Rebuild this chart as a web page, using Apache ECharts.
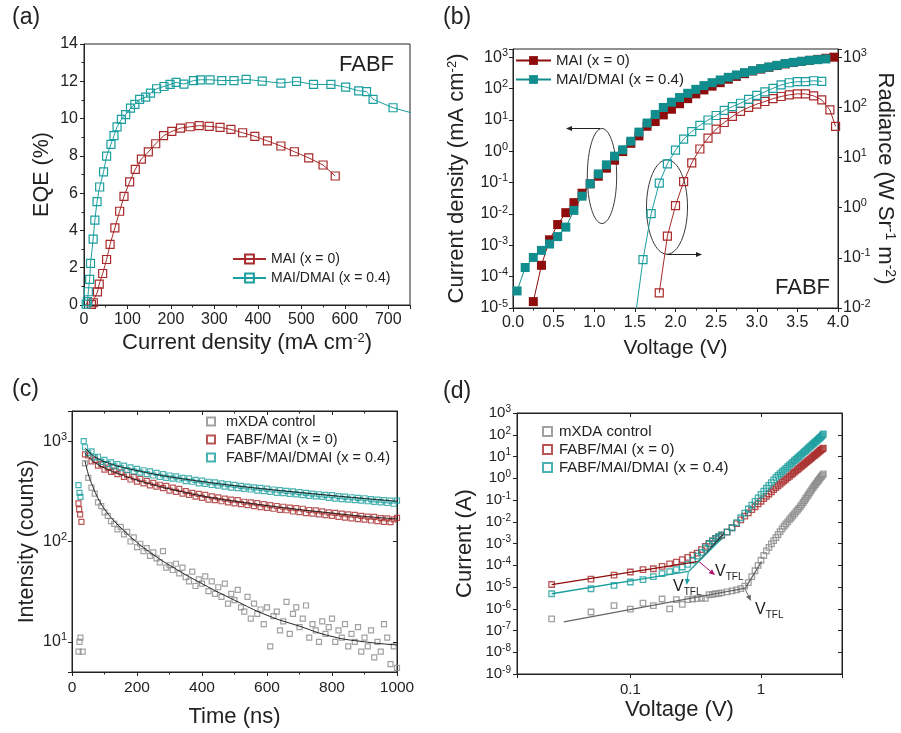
<!DOCTYPE html>
<html>
<head>
<meta charset="utf-8">
<script src="https://cdn.jsdelivr.net/npm/echarts@6/dist/echarts.min.js"></script>
<style>
  html, body { margin: 0; padding: 0; background: #fff; }
  #chart { width: 901px; height: 733px; }
</style>
</head>
<body>
<div id="chart"></div>
<script>
// ---------- (a) EQE vs current density ----------
const eqeJ_MAI = [17, 21.5, 31, 35, 43, 52, 60, 71, 82, 92, 105, 118, 132, 148, 165, 183, 202, 222, 244, 265, 288, 313, 338, 365, 393, 422, 453, 484, 517, 550, 578];
const eqe_MAI = [0.03, 0.12, 0.70, 1.12, 1.69, 2.44, 3.25, 4.14, 5.03, 5.83, 6.60, 7.28, 7.83, 8.21, 8.65, 9.08, 9.31, 9.49, 9.56, 9.62, 9.58, 9.53, 9.42, 9.24, 9.05, 8.80, 8.53, 8.22, 7.89, 7.51, 6.92];
const eqeJ_DMAI = [5, 8, 10, 13, 15, 21, 25, 30, 36, 45, 52, 62, 69, 76, 86, 96, 107, 117, 128, 142, 153, 167, 184, 198, 212, 230, 252, 268, 290, 317, 345, 373, 410, 453, 489, 528, 568, 602, 632, 650, 665, 711, 770];
const eqe_DMAI = [0.05, 0.18, 0.71, 1.37, 2.23, 3.53, 4.55, 5.55, 6.33, 7.14, 7.99, 8.62, 9.08, 9.55, 9.96, 10.21, 10.56, 10.76, 11.03, 11.15, 11.36, 11.60, 11.72, 11.83, 11.94, 11.85, 12.04, 12.08, 12.08, 12.04, 12.04, 12.10, 12.01, 11.90, 11.99, 11.83, 11.83, 11.69, 11.49, 11.45, 11.03, 10.58, 10.2];

// ---------- (b) J-V-L ----------
const jvV_MAI = [0.25, 0.35, 0.45, 0.55, 0.65, 0.75, 0.85, 0.95, 1.05, 1.15, 1.25, 1.35, 1.45, 1.55, 1.65, 1.75, 1.85, 1.95, 2.05, 2.15, 2.25, 2.35, 2.45, 2.55, 2.65, 2.75, 2.85, 2.95, 3.05, 3.15, 3.25, 3.35, 3.45, 3.55, 3.65, 3.75, 3.85, 3.95];
const jvJ_MAI = [1.6e-5, 2.3e-4, 1.5e-3, 4.6e-3, 0.011, 0.023, 0.046, 0.092, 0.16, 0.29, 0.52, 0.98, 1.8, 3.1, 6.3, 8.9, 14.5, 22, 33, 48, 68, 91, 120, 155, 200, 246, 300, 366, 420, 480, 545, 615, 680, 740, 800, 860, 930, 1010];
const jvV_DMAI = [0.05, 0.15, 0.25, 0.35, 0.45, 0.55, 0.65, 0.75, 0.85, 0.95, 1.05, 1.15, 1.25, 1.35, 1.45, 1.55, 1.65, 1.75, 1.85, 1.95, 2.05, 2.15, 2.25, 2.35, 2.45, 2.55, 2.65, 2.75, 2.85, 2.95, 3.05, 3.15, 3.25, 3.35, 3.45, 3.55, 3.65, 3.75, 3.85];
const jvJ_DMAI = [3.5e-5, 1.96e-4, 4.1e-4, 6.9e-4, 1.1e-3, 1.9e-3, 3.8e-3, 0.013, 0.037, 0.092, 0.19, 0.37, 0.70, 1.12, 2.1, 4.1, 8.0, 15, 25, 37, 52, 71, 95, 125, 155, 189, 230, 274, 325, 375, 435, 490, 555, 630, 690, 745, 800, 840, 885];
const radV_MAI = [1.80, 1.90, 2.00, 2.10, 2.20, 2.30, 2.40, 2.50, 2.60, 2.70, 2.80, 2.90, 3.00, 3.10, 3.20, 3.30, 3.40, 3.50, 3.60, 3.70, 3.80, 3.90, 3.97];
const rad_MAI = [0.020, 0.27, 1.1, 3.3, 7.8, 14.8, 24.5, 37, 50, 66, 83, 100, 116, 131, 150, 165, 178, 186, 186, 170, 141, 89, 42];
const radV_DMAI = [1.50, 1.60, 1.70, 1.80, 1.90, 2.00, 2.10, 2.20, 2.30, 2.40, 2.50, 2.60, 2.70, 2.80, 2.90, 3.00, 3.10, 3.20, 3.30, 3.40, 3.50, 3.60, 3.70, 3.80];
const rad_DMAI = [0.0058, 0.092, 0.76, 3.1, 7.5, 14, 23.4, 33, 44, 56, 69, 87, 104, 121, 145, 173, 204, 240, 280, 310, 325, 325, 340, 330];

// ---------- (c) TRPL ----------
const timeNs = [40, 50, 60, 70, 80, 90, 100, 110, 120, 130, 140, 150, 160, 170, 180, 190, 200, 210, 220, 230, 240, 250, 260, 270, 280, 290, 300, 310, 320, 330, 340, 350, 360, 370, 380, 390, 400, 410, 420, 430, 440, 450, 460, 470, 480, 490, 500, 510, 520, 530, 540, 550, 560, 570, 580, 590, 600, 610, 620, 630, 640, 650, 660, 670, 680, 690, 700, 710, 720, 730, 740, 750, 760, 770, 780, 790, 800, 810, 820, 830, 840, 850, 860, 870, 880, 890, 900, 910, 920, 930, 940, 950, 960, 970, 980, 990, 1000];
const pl_mXDA = [600, 430, 345, 300, 245, 225, 195, 180, 160, 150, 132, 140, 118, 125, 100, 110, 88, 95, 80, 86, 72, 78, 68, 62, 80, 55, 58, 52, 60, 48, 55, 44, 40, 50, 36, 42, 38, 45, 32, 40, 30, 35, 28, 38, 24, 30, 26, 33, 22, 20, 28, 17, 24, 19, 21, 15, 22, 9, 18, 20, 13, 16, 25, 12, 19, 22, 14, 17, 23, 11, 15, 13, 10, 16, 12, 14, 17, 10, 13, 11, 15, 9, 12, 10, 14, 8, 11, 9, 13, 7, 10, 8, 15, 11, 6, 9, 5.5];
const pl_MAI = [740, 720, 630, 650, 570, 590, 520, 545, 495, 510, 470, 490, 440, 462, 415, 438, 395, 420, 380, 402, 362, 385, 352, 368, 340, 358, 322, 345, 312, 334, 300, 318, 292, 306, 280, 298, 272, 292, 262, 282, 258, 275, 252, 268, 245, 262, 240, 258, 236, 249, 230, 246, 225, 241, 220, 236, 216, 230, 212, 226, 207, 222, 205, 218, 199, 215, 196, 212, 192, 206, 190, 204, 186, 200, 183, 195, 180, 193, 176, 190, 173, 186, 170, 184, 167, 180, 165, 177, 162, 176, 160, 171, 157, 170, 156, 166, 172];
const pl_DMAI = [870, 760, 790, 690, 700, 622, 650, 590, 615, 560, 590, 540, 570, 515, 548, 500, 530, 485, 513, 470, 500, 455, 484, 440, 470, 430, 455, 424, 446, 415, 430, 400, 425, 394, 412, 380, 405, 375, 394, 366, 388, 360, 379, 352, 373, 345, 367, 340, 358, 335, 353, 330, 347, 322, 342, 318, 336, 312, 330, 306, 325, 304, 320, 298, 316, 295, 311, 290, 305, 285, 300, 282, 296, 278, 292, 272, 290, 268, 284, 265, 280, 262, 276, 258, 272, 255, 270, 252, 265, 248, 262, 245, 258, 242, 256, 238, 255];
const plEarlyT_mXDA = [20, 23, 26, 33];
const plEarly_mXDA = [8, 10, 11, 8];
const plEarlyT_MAI = [20, 22, 25, 29];
const plEarly_MAI = [240, 209, 186, 157];
const plEarlyT_DMAI = [20, 23, 26, 36];
const plEarly_DMAI = [365, 305, 278, 1000];
const fitT_mXDA = [40, 50, 60, 80, 100, 130, 160, 200, 250, 300, 400, 500, 600, 700, 800, 900, 1000];
const fit_mXDA = [640, 470, 380, 270, 210, 160, 128, 98, 74, 58, 38, 26, 18.4, 14.3, 11.3, 10, 9.3];
const fitT = [40, 60, 80, 100, 150, 200, 250, 300, 400, 500, 600, 700, 800, 900, 1000];
const fit_MAI = [760, 650, 585, 540, 465, 410, 368, 335, 285, 252, 228, 208, 192, 178, 168];
const fit_DMAI = [860, 740, 670, 625, 555, 510, 472, 442, 396, 360, 332, 308, 287, 268, 252];

// ---------- (d) SCLC ----------
const scV = [0.025, 0.05, 0.075, 0.1, 0.125, 0.15, 0.175, 0.2, 0.225, 0.25, 0.275, 0.3, 0.325, 0.35, 0.375, 0.4, 0.425, 0.45, 0.475, 0.5, 0.55, 0.6, 0.65, 0.7, 0.75, 0.8, 0.85, 0.9, 0.95, 1.0, 1.05, 1.1, 1.15, 1.2, 1.25, 1.3, 1.35, 1.4, 1.45, 1.5, 1.55, 1.6, 1.65, 1.7, 1.75, 1.8, 1.85, 1.9, 1.95, 2.0, 2.05, 2.1, 2.15, 2.2, 2.25, 2.3, 2.35, 2.4, 2.45, 2.5, 2.55, 2.6, 2.65, 2.7, 2.75, 2.8, 2.85, 2.9, 2.95, 3.0];
const scI_mXDA = [3.4e-7, 7.1e-7, 1.4e-6, 9.7e-7, 1.8e-6, 1.4e-6, 2.8e-6, 9.8e-7, 2.6e-6, 1.6e-6, 2.6e-6, 2.8e-6, 2.9e-6, 3.1e-6, 3.0e-6, 4.4e-6, 4.6e-6, 4.9e-6, 5.1e-6, 5.4e-6, 6.0e-6, 6.6e-6, 7.4e-6, 8.4e-6, 1.1e-5, 1.6e-5, 3.0e-5, 5.6e-5, 9.9e-5, 1.7e-4, 2.8e-4, 4.6e-4, 6.7e-4, 9.6e-4, 1.35e-3, 1.88e-3, 2.58e-3, 3.5e-3, 4.7e-3, 6.2e-3, 7.9e-3, 9.9e-3, 0.0124, 0.0153, 0.0189, 0.0232, 0.0282, 0.0342, 0.0412, 0.0495, 0.0618, 0.0768, 0.0949, 0.117, 0.143, 0.174, 0.211, 0.255, 0.307, 0.368, 0.44, 0.513, 0.597, 0.692, 0.80, 0.922, 1.06, 1.22, 1.39, 1.59];
const scI_MAI = [1.3e-5, 2.3e-5, 3.5e-5, 4.9e-5, 6.3e-5, 6.9e-5, 8.9e-5, 1.15e-4, 1.4e-4, 1.8e-4, 2.3e-4, 2.9e-4, 3.6e-4, 5.2e-4, 7.4e-4, 1.0e-3, 1.3e-3, 1.7e-3, 2.0e-3, 2.4e-3, 3.3e-3, 5.3e-3, 8.2e-3, 0.0123, 0.018, 0.0256, 0.0358, 0.049, 0.066, 0.0875, 0.115, 0.148, 0.189, 0.239, 0.299, 0.37, 0.452, 0.542, 0.646, 0.766, 0.90, 1.06, 1.23, 1.43, 1.65, 1.91, 2.19, 2.50, 2.84, 3.23, 3.66, 4.12, 4.63, 5.20, 5.82, 6.49, 7.23, 8.03, 8.91, 9.84, 10.9, 12.0, 13.2, 14.5, 15.9, 17.4, 19.0, 20.7, 22.5, 24.5];
const scI_DMAI = [4.9e-6, 8.3e-6, 1.2e-5, 1.7e-5, 2.2e-5, 3.0e-5, 4.1e-5, 5.1e-5, 6.3e-5, 8.3e-5, 1.1e-4, 1.7e-4, 2.6e-4, 3.9e-4, 6.2e-4, 9.5e-4, 1.3e-3, 1.7e-3, 2.1e-3, 2.5e-3, 3.4e-3, 5.3e-3, 9.2e-3, 0.0153, 0.0247, 0.0386, 0.0585, 0.0868, 0.126, 0.180, 0.252, 0.347, 0.471, 0.632, 0.838, 1.10, 1.35, 1.64, 1.99, 2.38, 2.84, 3.38, 3.99, 4.68, 5.47, 6.38, 7.40, 8.55, 9.82, 11.3, 12.9, 14.7, 16.6, 18.8, 21.3, 23.9, 26.9, 30.1, 33.7, 37.6, 41.8, 46.4, 51.4, 56.9, 62.8, 69.2, 76.2, 83.6, 95, 108];
const fitLowV_mXDA = [0.031, 0.759], fitLowI_mXDA = [2.5e-7, 8.9e-6];
const fitHighV_mXDA = [0.759, 1.01], fitHighI_mXDA = [8.9e-6, 1.5e-4];
const fitLowV_MAI = [0.025, 0.333], fitLowI_MAI = [1.3e-5, 1.5e-4];
const fitHighV_MAI = [0.333, 0.52], fitHighI_MAI = [1.5e-4, 2.9e-3];
const fitLowV_DMAI = [0.025, 0.279], fitLowI_DMAI = [4.9e-6, 5.2e-5];
const fitHighV_DMAI = [0.279, 0.49], fitHighI_DMAI = [5.2e-5, 1.5e-3];

// ---------- style ----------
const FONT = '"Liberation Sans", Arial, sans-serif';
const INK = '#222';
const RED = '#a82a2a', TEAL = '#1a9e9e', RED_D = '#8e0c0c', TEAL_D = '#118d8d', GRAY = '#8a8a8a';

const pairs = (xs, ys) => xs.map((x, i) => [x, ys[i]]);
const logPairs = (xs, ys) => xs.map((x, i) => [x, Math.log10(ys[i])]);

const supRich = { s: { fontSize: 11, verticalAlign: 'top', lineHeight: 8, color: INK } };
const nameRich = { s: { fontSize: 13, verticalAlign: 'top', lineHeight: 10, color: INK } };

function powLabel(v) {
  const l = Math.log10(v), e = Math.round(l);
  if (Math.abs(l - e) > 1e-6) return '';
  return '10{s|' + e + '}';
}

function axis(o) {
  return Object.assign({
    nameLocation: 'middle',
    axisLine: { show: true, onZero: false, lineStyle: { color: INK, width: 1 } },
    axisTick: { show: true, inside: false, length: 4, lineStyle: { color: INK } },
    splitLine: { show: false },
  }, o);
}
const innerTick = { show: true, inside: true, length: 4, lineStyle: { color: INK } };
const minor = () => ({ show: true, splitNumber: 2, length: 2.5, lineStyle: { color: INK } });
const lab = (size, extra) => Object.assign({ color: INK, fontSize: size, fontFamily: FONT }, extra);
const nm = (size, extra) => Object.assign({ color: INK, fontSize: size, fontFamily: FONT }, extra);

const openSq = (c, size, bw) => ({ symbol: 'rect', symbolSize: size, itemStyle: { color: 'transparent', borderColor: c, borderWidth: bw || 1.2 } });

function arrow(x1, y1, x2, y2, color) {
  const a = Math.atan2(y2 - y1, x2 - x1), L = 6, W = 2.6;
  const bx = x2 - L * Math.cos(a), by = y2 - L * Math.sin(a);
  return [
    { type: 'line', silent: true, shape: { x1: x1, y1: y1, x2: bx, y2: by }, style: { stroke: color, lineWidth: 1 } },
    { type: 'polygon', silent: true, shape: { points: [[x2, y2], [bx - W * Math.sin(a), by + W * Math.cos(a)], [bx + W * Math.sin(a), by - W * Math.cos(a)]] }, style: { fill: color } }
  ];
}
function txt(x, y, text, size, align, extra) {
  return { type: 'text', silent: true, x: x, y: y,
    style: Object.assign({ text: text, fill: INK, fontSize: size, fontFamily: FONT, align: align || 'left', verticalAlign: 'middle' }, extra) };
}
const vtfl = (x, y) => txt(x, y, 'V{sub|TFL}', 16, 'left', { lineHeight: 20, rich: { sub: { fontSize: 10, verticalAlign: 'bottom', lineHeight: 8, fill: INK } } });

const gridBox = { show: true, borderColor: INK, borderWidth: 1, backgroundColor: 'transparent' };
const legendBase = { orient: 'vertical', padding: 0, selectedMode: false };

const option = {
  animation: false,
  backgroundColor: '#fff',
  textStyle: { fontFamily: FONT },
  grid: [
    Object.assign({ left: 84, top: 44, width: 326, height: 261 }, gridBox),
    Object.assign({ left: 513, top: 49, width: 325, height: 259 }, gridBox),
    Object.assign({ left: 72, top: 411, width: 325, height: 261 }, gridBox),
    Object.assign({ left: 517, top: 413, width: 325, height: 261 }, gridBox),
  ],
  xAxis: [
    axis({ gridIndex: 0, type: 'value', min: 0, max: 750, interval: 100,
      name: 'Current density (mA cm{s|-2})', nameGap: 27, nameTextStyle: nm(22, { rich: nameRich }),
      minorTick: minor(),
      axisLabel: lab(16, { margin: 7, formatter: v => (v % 100 === 0 ? String(v) : '') }) }),
    axis({ gridIndex: 1, type: 'value', min: 0, max: 4, interval: 0.5,
      name: 'Voltage (V)', nameGap: 30, nameTextStyle: nm(21),
      minorTick: minor(),
      axisLabel: lab(16, { margin: 7, formatter: v => v.toFixed(1) }) }),
    axis({ gridIndex: 2, type: 'value', min: 0, max: 1000, interval: 200,
      name: 'Time (ns)', nameGap: 34, nameTextStyle: nm(22),
      minorTick: minor(),
      axisLabel: lab(15.5, { margin: 8, formatter: v => String(v) }) }),
    axis({ gridIndex: 3, type: 'log', min: 0.01358, max: 4.166,
      name: 'Voltage (V)', nameGap: 25, nameTextStyle: nm(22),
      axisLabel: lab(15, { margin: 8, formatter: v => { const e = Math.log10(v); return Math.abs(e + 1) < 1e-6 ? '0.1' : (Math.abs(e) < 1e-6 ? '1' : ''); } }) }),
    axis({ gridIndex: 2, type: 'value', position: 'top', min: 0, max: 1000, interval: 200,
      axisTick: innerTick, axisLabel: { show: false }, minorTick: minor() }),
    axis({ gridIndex: 3, type: 'log', position: 'top', min: 0.01358, max: 4.166, axisTick: innerTick, axisLabel: { show: false } }),
  ],
  yAxis: [
    axis({ gridIndex: 0, type: 'value', min: 0, max: 14, interval: 2,
      name: 'EQE (%)', nameGap: 31, nameTextStyle: nm(21.5),
      minorTick: minor(),
      axisLabel: lab(16, { margin: 6 }) }),
    axis({ gridIndex: 1, type: 'log', min: 1e-5, max: 1840,
      name: 'Current density (mA cm{s|-2})', nameGap: 45, nameTextStyle: nm(22, { rich: nameRich }),
      axisLabel: lab(16, { margin: 5, lineHeight: 20, formatter: powLabel, rich: supRich }) }),
    axis({ gridIndex: 1, type: 'log', position: 'right', min: 0.01, max: 1460,
      name: 'Radiance (W Sr{s|-1} m{s|-2})', nameGap: 34, nameRotate: -90, nameTextStyle: nm(22, { rich: { s: { fontSize: 14, verticalAlign: 'top', lineHeight: 10, color: INK } } }),
      axisLabel: lab(16, { margin: 5, lineHeight: 20, formatter: powLabel, rich: supRich }) }),
    axis({ gridIndex: 2, type: 'log', min: 5, max: 2000,
      name: 'Intensity (counts)', nameGap: 34, nameTextStyle: nm(21.5),
      axisLabel: lab(16, { margin: 5, lineHeight: 20, formatter: powLabel, rich: supRich }) }),
    axis({ gridIndex: 3, type: 'value', min: -9, max: 3, interval: 1,
      name: 'Current (A)', nameGap: 41, nameTextStyle: nm(22),
      axisLabel: lab(15, { margin: 6, lineHeight: 18, formatter: v => '10{s|' + v + '}', rich: { s: { fontSize: 10, verticalAlign: 'top', lineHeight: 7, color: INK } } }) }),
    axis({ gridIndex: 2, type: 'log', position: 'right', min: 5, max: 2000, axisTick: innerTick, axisLabel: { show: false } }),
    axis({ gridIndex: 3, type: 'value', position: 'right', min: -9, max: 3, interval: 1, axisTick: innerTick, axisLabel: { show: false } }),
  ],
  legend: [
    Object.assign({ left: 232, top: 252, itemWidth: 33, itemHeight: 11, itemGap: 5,
      textStyle: { color: INK, fontSize: 14, fontFamily: FONT }, data: ['MAI (x = 0)', 'MAI/DMAI (x = 0.4)'] }, legendBase),
    Object.assign({ left: 515, top: 53, itemWidth: 35, itemHeight: 11, itemGap: 4,
      formatter: n => n.replace(' [J]', ''),
      textStyle: { color: INK, fontSize: 15, fontFamily: FONT }, data: ['MAI (x = 0) [J]', 'MAI/DMAI (x = 0.4) [J]'] }, legendBase),
    Object.assign({ left: 206, top: 414, itemWidth: 8, itemHeight: 8, itemGap: 3,
      textStyle: { color: INK, fontSize: 14.5, fontFamily: FONT, padding: [0, 0, 0, 6] },
      data: ['mXDA control', 'FABF/MAI (x = 0)', 'FABF/MAI/DMAI (x = 0.4)'] }, legendBase),
    Object.assign({ left: 542, top: 424, itemWidth: 9, itemHeight: 9, itemGap: 3,
      textStyle: { color: INK, fontSize: 15, fontFamily: FONT, padding: [0, 0, 0, 2] },
      data: ['mXDA control', 'FABF/MAI (x = 0)', 'FABF/MAI/DMAI (x = 0.4)'] }, legendBase),
  ],
  series: [
    // (a)
    Object.assign({ type: 'line', name: 'MAI (x = 0)', xAxisIndex: 0, yAxisIndex: 0, data: pairs(eqeJ_MAI, eqe_MAI),
      lineStyle: { color: RED, width: 1 } }, openSq(RED, 8)),
    Object.assign({ type: 'line', name: 'MAI/DMAI (x = 0.4)', xAxisIndex: 0, yAxisIndex: 0, data: pairs(eqeJ_DMAI, eqe_DMAI),
      lineStyle: { color: TEAL, width: 1 } }, openSq(TEAL, 8)),
    // (b) current density
    { type: 'line', name: 'MAI (x = 0) [J]', xAxisIndex: 1, yAxisIndex: 1, data: pairs(jvV_MAI, jvJ_MAI),
      symbol: 'rect', symbolSize: 9, itemStyle: { color: RED_D }, lineStyle: { color: RED_D, width: 1 } },
    { type: 'line', name: 'MAI/DMAI (x = 0.4) [J]', xAxisIndex: 1, yAxisIndex: 1, data: pairs(jvV_DMAI, jvJ_DMAI),
      symbol: 'rect', symbolSize: 9, itemStyle: { color: TEAL_D }, lineStyle: { color: TEAL_D, width: 1 } },
    // (b) radiance
    Object.assign({ type: 'line', name: 'MAI (x = 0) [L]', xAxisIndex: 1, yAxisIndex: 2, data: pairs(radV_MAI, rad_MAI),
      lineStyle: { color: RED, width: 1 } }, openSq(RED, 8)),
    Object.assign({ type: 'line', name: 'MAI/DMAI (x = 0.4) [L]', xAxisIndex: 1, yAxisIndex: 2, data: pairs(radV_DMAI, rad_DMAI),
      lineStyle: { color: TEAL, width: 1 } }, openSq(TEAL, 8)),
    // (c)
    Object.assign({ type: 'scatter', name: 'mXDA control', xAxisIndex: 2, yAxisIndex: 3,
      data: pairs(plEarlyT_mXDA, plEarly_mXDA).concat(pairs(timeNs, pl_mXDA)) }, openSq(GRAY, 5)),
    Object.assign({ type: 'scatter', name: 'FABF/MAI (x = 0)', xAxisIndex: 2, yAxisIndex: 3,
      data: pairs(plEarlyT_MAI, plEarly_MAI).concat(pairs(timeNs, pl_MAI)) }, openSq(RED, 5)),
    Object.assign({ type: 'scatter', name: 'FABF/MAI/DMAI (x = 0.4)', xAxisIndex: 2, yAxisIndex: 3,
      data: pairs(plEarlyT_DMAI, plEarly_DMAI).concat(pairs(timeNs, pl_DMAI)) }, openSq(TEAL, 5)),
    { type: 'line', name: 'fit c0', xAxisIndex: 2, yAxisIndex: 3, data: pairs(fitT_mXDA, fit_mXDA), smooth: true, symbol: 'none', lineStyle: { color: INK, width: 1 } },
    { type: 'line', name: 'fit c1', xAxisIndex: 2, yAxisIndex: 3, data: pairs(fitT, fit_MAI), smooth: true, symbol: 'none', lineStyle: { color: INK, width: 1 } },
    { type: 'line', name: 'fit c2', xAxisIndex: 2, yAxisIndex: 3, data: pairs(fitT, fit_DMAI), smooth: true, symbol: 'none', lineStyle: { color: INK, width: 1 } },
    // (d)
    Object.assign({ type: 'scatter', name: 'mXDA control', xAxisIndex: 3, yAxisIndex: 4, data: logPairs(scV, scI_mXDA) }, openSq(GRAY, 5.5, 1.3)),
    Object.assign({ type: 'scatter', name: 'FABF/MAI (x = 0)', xAxisIndex: 3, yAxisIndex: 4, data: logPairs(scV, scI_MAI) }, openSq(RED, 5.5, 1.3)),
    Object.assign({ type: 'scatter', name: 'FABF/MAI/DMAI (x = 0.4)', xAxisIndex: 3, yAxisIndex: 4, data: logPairs(scV, scI_DMAI) }, openSq(TEAL, 5.5, 1.3)),
    { type: 'line', name: 'fit d0', xAxisIndex: 3, yAxisIndex: 4, data: logPairs(fitLowV_mXDA, fitLowI_mXDA), symbol: 'none', lineStyle: { color: '#666', width: 1.3 } },
    { type: 'line', name: 'fit d1', xAxisIndex: 3, yAxisIndex: 4, data: logPairs(fitHighV_mXDA, fitHighI_mXDA), symbol: 'none', lineStyle: { color: '#666', width: 1.3 } },
    { type: 'line', name: 'fit d2', xAxisIndex: 3, yAxisIndex: 4, data: logPairs(fitLowV_MAI, fitLowI_MAI), symbol: 'none', lineStyle: { color: RED_D, width: 1.3 } },
    { type: 'line', name: 'fit d3', xAxisIndex: 3, yAxisIndex: 4, data: logPairs(fitHighV_MAI, fitHighI_MAI), symbol: 'none', lineStyle: { color: '#333', width: 1.3 } },
    { type: 'line', name: 'fit d4', xAxisIndex: 3, yAxisIndex: 4, data: logPairs(fitLowV_DMAI, fitLowI_DMAI), symbol: 'none', lineStyle: { color: TEAL, width: 1.3 } },
    { type: 'line', name: 'fit d5', xAxisIndex: 3, yAxisIndex: 4, data: logPairs(fitHighV_DMAI, fitHighI_DMAI), symbol: 'none', lineStyle: { color: TEAL, width: 1.3 } },
  ],
  graphic: [
    txt(12, 18, '(a)', 23), txt(443, 18, '(b)', 23), txt(12, 390, '(c)', 23), txt(443, 392, '(d)', 23),
    txt(394, 65, 'FABF', 22, 'right'), txt(830, 288, 'FABF', 22, 'right'),
    { type: 'ellipse', silent: true, shape: { cx: 602, cy: 176, rx: 14.7, ry: 47.5 }, style: { fill: 'none', stroke: INK, lineWidth: 0.9 } },
    { type: 'ellipse', silent: true, shape: { cx: 667, cy: 207, rx: 20.5, ry: 47.2 }, style: { fill: 'none', stroke: INK, lineWidth: 0.9 } },
    ...arrow(600, 128.5, 566, 128.5, INK),
    ...arrow(667, 254.5, 702, 254.5, INK),
    ...arrow(698.3, 561, 715, 575, '#b0106a'),
    ...arrow(688.3, 572, 686.7, 585, TEAL),
    ...arrow(745, 589, 751, 601, '#666'),
    vtfl(715, 572), vtfl(673, 587), vtfl(755, 610),
  ],
};

const chart = echarts.init(document.getElementById('chart'), null, { renderer: 'canvas' });
chart.setOption(option);
</script>
</body>
</html>
